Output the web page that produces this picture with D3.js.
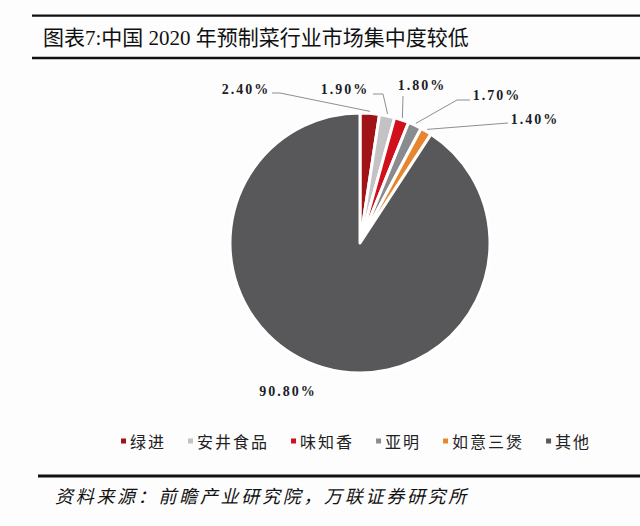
<!DOCTYPE html>
<meta charset="utf-8">
<head>
<style>
  body { margin: 0; background: #fdfdfd; }
  svg { display: block; }
</style>
</head>
<body>
<div id="my_dataviz"></div>
<script src="https://d3js.org/d3.v7.min.js"></script>
<script>
// data
const companies = ["绿进", "安井食品", "味知香", "亚明", "如意三煲", "其他"];
const shares = [2.4, 1.9, 1.8, 1.7, 1.4, 90.8];
const labels = ["2.40%", "1.90%", "1.80%", "1.70%", "1.40%", "90.80%"];
const colors = ["#a01418", "#c3c3c6", "#d0101c", "#8a8b8f", "#e8862f", "#58585a"];

// where each label sits, relative to the pie centre, plus the elbow of its leader line
const labelPos = [
  {x: -114, y: -154, anchor: "middle", line: [[-88, -150], [-80, -150]]},
  {x: -15,  y: -154, anchor: "middle", line: [[13, -149], [23, -149]]},
  {x: 62,   y: -158, anchor: "middle", line: [[43, -147], [43, -147]]},
  {x: 137,  y: -148, anchor: "middle", line: [[110, -143], [97, -143]]},
  {x: 175,  y: -124, anchor: "middle", line: [[148, -120], [148, -120]]},
  {x: -72,  y: 148,  anchor: "middle", line: null}
];

const W = 640, H = 526;
const cx = 360, cy = 243, radius = 130;

const svg = d3.select("#my_dataviz")
  .append("svg")
    .attr("width", W)
    .attr("height", H);

// title block rules
svg.append("line").attr("x1", 32).attr("x2", W).attr("y1", 15.7).attr("y2", 15.7)
  .attr("stroke", "#111").attr("stroke-width", 2.2);
svg.append("line").attr("x1", 32).attr("x2", W).attr("y1", 58).attr("y2", 58)
  .attr("stroke", "#111").attr("stroke-width", 2.6);

svg.append("text")
  .attr("x", 43)
  .attr("y", 38)
  .attr("dominant-baseline", "central")
  .style("font-family", "'Liberation Serif', 'Noto Sans CJK SC', serif")
  .style("font-size", "21px")
  .style("fill", "#111")
  .text("图表7:中国 2020 年预制菜行业市场集中度较低");

// pie
const pie = d3.pie().sort(null).value(d => d)
  .startAngle(0).endAngle(2 * Math.PI);
const arcs = pie(shares);
const arc = d3.arc().innerRadius(0).outerRadius(radius);

const g = svg.append("g").attr("transform", `translate(${cx}, ${cy})`);

g.selectAll("path")
  .data(arcs)
  .join("path")
    .attr("d", arc)
    .attr("fill", (d, i) => colors[i])
    .attr("stroke", "#fff")
    .attr("stroke-width", 3)
    .attr("stroke-linejoin", "round");

// leader lines
function edgePoint(d) {
  const a = (d.startAngle + d.endAngle) / 2;
  return [Math.sin(a) * (radius + 2), -Math.cos(a) * (radius + 2)];
}

arcs.forEach(function(d, i) {
  const lp = labelPos[i];
  if (!lp.line) return;
  const pts = lp.line.concat([edgePoint(d)]);
  g.append("path")
    .attr("d", d3.line()(pts))
    .attr("fill", "none")
    .attr("stroke", "#8f8f8f")
    .attr("stroke-width", 1);
});

// data labels
g.selectAll("text.lbl")
  .data(arcs)
  .join("text")
    .attr("class", "lbl")
    .attr("x", (d, i) => labelPos[i].x)
    .attr("y", (d, i) => labelPos[i].y)
    .attr("text-anchor", (d, i) => labelPos[i].anchor)
    .attr("dominant-baseline", "central")
    .style("font-family", "'Liberation Serif', serif")
    .style("font-weight", "bold")
    .style("font-size", "14px")
    .style("letter-spacing", "2px")
    .style("fill", "#1c1c28")
    .text((d, i) => labels[i]);

// legend
const legend = svg.append("g").attr("transform", "translate(0, 441)");
let lx = 121;
companies.forEach(function(name, i) {
  legend.append("rect")
    .attr("x", lx).attr("y", -2.5)
    .attr("width", 5).attr("height", 5)
    .attr("fill", colors[i]);
  const t = legend.append("text")
    .attr("x", lx + 9)
    .attr("y", 0)
    .attr("dominant-baseline", "central")
    .style("font-family", "'Noto Sans CJK SC', sans-serif")
    .style("font-size", "16px")
    .style("letter-spacing", "2px")
    .style("fill", "#222")
    .text(name);
  lx += 9 + t.node().getComputedTextLength() + 22;
});

// source
svg.append("line").attr("x1", 38).attr("x2", W).attr("y1", 476).attr("y2", 476)
  .attr("stroke", "#111").attr("stroke-width", 3);

svg.append("text")
  .attr("x", 55)
  .attr("y", 495)
  .attr("dominant-baseline", "central")
  .style("font-family", "'Noto Sans CJK SC', sans-serif")
  .style("font-style", "italic")
  .style("font-size", "18px")
  .style("letter-spacing", "2.7px")
  .style("fill", "#111")
  .text("资料来源：前瞻产业研究院，万联证券研究所");
</script>
</body>
